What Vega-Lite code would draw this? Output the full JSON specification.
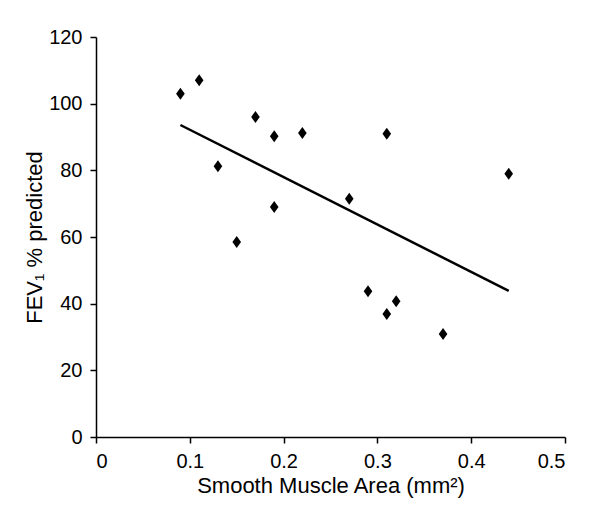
{
  "$schema": "https://vega.github.io/schema/vega-lite/v6.json",
  "description": "FEV1 % predicted against smooth muscle area, with a least-squares line",
  "width": 469,
  "height": 400,
  "autosize": {"type": "none"},
  "padding": {"left": 96, "top": 37, "right": 37, "bottom": 81},
  "background": "white",
  "data": {
    "values": [
      {"sma": 0.09, "fev1": 103.0},
      {"sma": 0.11, "fev1": 107.0},
      {"sma": 0.13, "fev1": 81.2},
      {"sma": 0.15, "fev1": 58.5},
      {"sma": 0.17, "fev1": 96.0},
      {"sma": 0.19, "fev1": 90.2},
      {"sma": 0.19, "fev1": 69.0},
      {"sma": 0.22, "fev1": 91.2},
      {"sma": 0.27, "fev1": 71.5},
      {"sma": 0.29, "fev1": 43.7},
      {"sma": 0.31, "fev1": 91.0},
      {"sma": 0.31, "fev1": 36.9},
      {"sma": 0.32, "fev1": 40.7},
      {"sma": 0.37, "fev1": 30.9},
      {"sma": 0.44, "fev1": 79.0}
    ]
  },
  "layer": [
    {
      "mark": {
        "type": "point",
        "shape": "M0,-1L0.72,0L0,1L-0.72,0Z",
        "filled": true,
        "color": "black",
        "opacity": 1,
        "size": 144
      },
      "encoding": {
        "x": {
          "field": "sma",
          "type": "quantitative",
          "title": "Smooth Muscle Area (mm²)",
          "scale": {"domain": [0, 0.5], "nice": false, "zero": true},
          "axis": {"values": [0, 0.1, 0.2, 0.3, 0.4, 0.5], "format": "~g", "titlePadding": 4}
        },
        "y": {
          "field": "fev1",
          "type": "quantitative",
          "title": "FEV₁ % predicted",
          "scale": {"domain": [0, 120], "nice": false},
          "axis": {"values": [0, 20, 40, 60, 80, 100, 120], "titlePadding": 2}
        }
      }
    },
    {
      "transform": [{"regression": "fev1", "on": "sma"}],
      "mark": {"type": "line", "color": "black", "strokeWidth": 2.5},
      "encoding": {
        "x": {"field": "sma", "type": "quantitative"},
        "y": {"field": "fev1", "type": "quantitative"}
      }
    }
  ],
  "config": {
    "view": {"stroke": null},
    "font": "Liberation Sans",
    "axis": {
      "grid": false,
      "labelFont": "Liberation Sans",
      "labelFontSize": 20,
      "labelColor": "black",
      "labelPadding": 8,
      "titleFont": "Liberation Sans",
      "titleFontSize": 22,
      "titleFontWeight": "normal",
      "titleColor": "black",
      "domainColor": "black",
      "domainWidth": 1.5,
      "tickColor": "black",
      "tickWidth": 1.5,
      "tickSize": 6
    }
  }
}
